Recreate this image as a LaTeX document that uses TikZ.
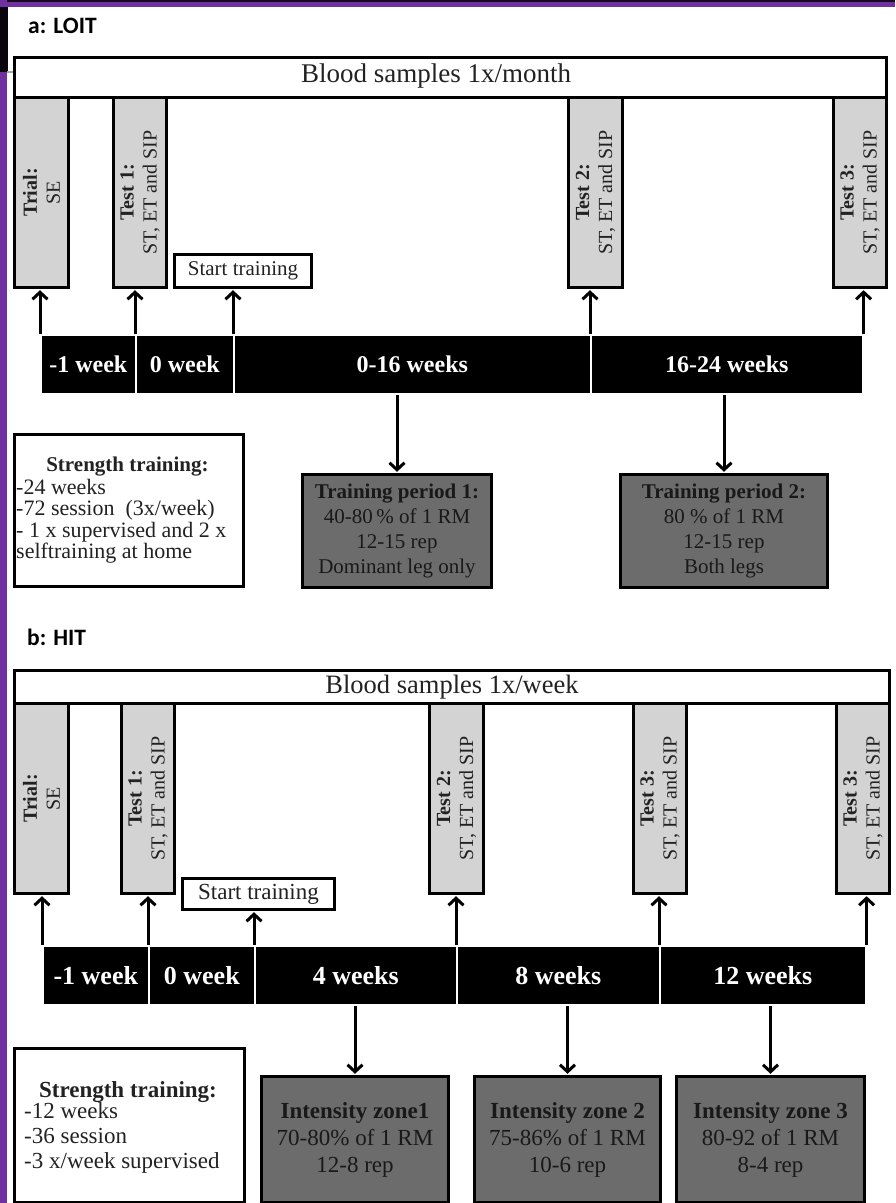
\documentclass[tikz,border=0pt]{standalone}
\usepackage{fontspec}
\setmainfont{Liberation Serif}
\newfontfamily\panelfont{Carlito}
\usetikzlibrary{arrows.meta}

\definecolor{framepurple}{HTML}{7030A0}
\definecolor{testgray}{HTML}{D3D3D3}
\definecolor{periodgray}{HTML}{6C6C6C}
\definecolor{inkgray}{HTML}{222222}

\newcommand\fsz[2]{\fontsize{#1}{#2}\selectfont}

\begin{document}
\begin{tikzpicture}[x=1pt,y=-1pt,
  every node/.style={inner sep=0pt, text=inkgray},
  panellabel/.style={anchor=west, font=\panelfont\bfseries\fsz{23.5}{26}, text=black},
  bloodbox/.style={draw, line width=3pt, fill=white, anchor=north west},
  testbox/.style={draw, line width=3pt, fill=testgray, anchor=north west},
  vtext/.style={rotate=90, align=center, font=\fsz{20}{23}},
  startbox/.style={draw, line width=3pt, fill=white, anchor=north west},
  barseg/.style={fill=black, draw=white, line width=1.6pt, anchor=north west, text=white},
  infobox/.style={draw, line width=3pt, fill=white, anchor=north west},
  periodbox/.style={draw, line width=3pt, fill=periodgray, anchor=north west, align=center, text=black!90},
  arr/.style={line width=3pt, shorten >=1.2pt, -{Straight Barb[length=7pt,width=15pt]}}
]
\useasboundingbox (0,0) rectangle (895,1203);
\fill[white] (0,0) rectangle (895,1203);

% frame edges
\fill[framepurple] (0,0) rectangle (895,7);
\fill[black!80!framepurple] (0,0) rectangle (895,1.5);
\fill[framepurple] (0,0) rectangle (7,1203);
\fill[black!92!framepurple] (0,7) rectangle (8,72);
\fill[black!35] (7,71) rectangle (21,73);

% ---------------- panel a ----------------
\node[panellabel] (labA) at (28,26) {a: LOIT};

\node[bloodbox, minimum width=872pt, minimum height=40pt] (bloodA) at (13,56) {};
\node[font=\fsz{27}{30}] (bloodAt) at (436,76) {Blood samples 1x/month};

\node[testbox, minimum width=54pt, minimum height=190pt] (trialA) at (13,96) {};
\node[testbox, minimum width=53pt, minimum height=190pt] (testOneA) at (112,96) {};
\node[testbox, minimum width=54pt, minimum height=190pt] (testTwoA) at (567,96) {};
\node[testbox, minimum width=53pt, minimum height=190pt] (testThreeA) at (832,96) {};
\node[vtext] (trialAt) at (trialA.center) {\textbf{Trial:}\\SE};
\node[vtext] (testOneAt) at (testOneA.center) {\textbf{Test 1:}\\ST, ET and SIP};
\node[vtext] (testTwoAt) at (testTwoA.center) {\textbf{Test 2:}\\ST, ET and SIP};
\node[vtext] (testThreeAt) at (testThreeA.center) {\textbf{Test 3:}\\ST, ET and SIP};

\node[startbox, minimum width=137pt, minimum height=33pt, font=\fsz{21}{24}] (startA) at (173,253) {Start training};

\begin{scope}[every node/.append style={font=\bfseries\fsz{24}{28}, minimum height=59pt}]
\node[barseg, minimum width=95pt]  (barA1) at (40,334)  {-1 week};
\node[barseg, minimum width=98pt]  (barA2) at (135,334) {0 week};
\node[barseg, minimum width=357pt] (barA3) at (233,334) {0-16 weeks};
\node[barseg, minimum width=272pt] (barA4) at (590,334) {16-24 weeks};
\end{scope}

\draw[arr] (barA1.north west) -- (barA1.north west |- trialA.south);
\draw[arr] (barA2.north west) -- (barA2.north west |- testOneA.south);
\draw[arr] (barA3.north west) -- (barA3.north west |- startA.south);
\draw[arr] (barA4.north west) -- (barA4.north west |- testTwoA.south);
\draw[arr] (barA4.north east) -- (barA4.north east |- testThreeA.south);

\node[infobox, minimum width=229pt, minimum height=152pt] (strengthA) at (13,433) {};
\node[font=\bfseries\fsz{21}{24}] (strengthAh) at (127.5,467) {Strength training:};
\node[anchor=north west, align=left, font=\fsz{22}{21.5}] (strengthAl) at (16,479)
  {-24 weeks\\-72 session\ \ (3x/week)\\- 1 x supervised and 2 x\\selftraining at home};

\node[periodbox, minimum width=189pt, minimum height=113pt, font=\fsz{21}{25}] (periodOne) at (301,473)
  {\textbf{Training period 1:}\\40-80\,\% of 1 RM\\12-15 rep\\Dominant leg only};
\node[periodbox, minimum width=207pt, minimum height=113pt, font=\fsz{21}{25}] (periodTwo) at (619,473)
  {\textbf{Training period 2:}\\80 \% of 1 RM\\12-15 rep\\Both legs};

\draw[arr] (barA3.south -| periodOne.north) -- (periodOne.north);
\draw[arr] (barA4.south -| periodTwo.north) -- (periodTwo.north);

% ---------------- panel b ----------------
\node[panellabel] (labB) at (27,637) {b: HIT};

\node[bloodbox, minimum width=875pt, minimum height=33pt, font=\fsz{26.5}{30}] (bloodB) at (13,669) {Blood samples 1x/week};

\node[testbox, minimum width=54pt, minimum height=190pt] (trialB) at (13,702) {};
\node[testbox, minimum width=53pt, minimum height=190pt] (testOneB) at (120,702) {};
\node[testbox, minimum width=54pt, minimum height=190pt] (testTwoB) at (428,702) {};
\node[testbox, minimum width=53pt, minimum height=190pt] (testThreeB) at (632,702) {};
\node[testbox, minimum width=53pt, minimum height=190pt] (testFourB) at (835,702) {};
\node[vtext] (trialBt) at (trialB.center) {\textbf{Trial:}\\SE};
\node[vtext] (testOneBt) at (testOneB.center) {\textbf{Test 1:}\\ST, ET and SIP};
\node[vtext] (testTwoBt) at (testTwoB.center) {\textbf{Test 2:}\\ST, ET and SIP};
\node[vtext] (testThreeBt) at (testThreeB.center) {\textbf{Test 3:}\\ST, ET and SIP};
\node[vtext] (testFourBt) at (testFourB.center) {\textbf{Test 3:}\\ST, ET and SIP};

\node[startbox, minimum width=152pt, minimum height=31pt, font=\fsz{23}{26}] (startB) at (181,877) {Start training};

\begin{scope}[every node/.append style={font=\bfseries\fsz{26}{30}, minimum height=59pt}]
\node[barseg, minimum width=106pt] (barB1) at (42,945)  {-1 week};
\node[barseg, minimum width=106pt] (barB2) at (148,945) {0 week};
\node[barseg, minimum width=202pt] (barB3) at (254,945) {4 weeks};
\node[barseg, minimum width=203pt] (barB4) at (456,945) {8 weeks};
\node[barseg, minimum width=206pt] (barB5) at (659,945) {12 weeks};
\end{scope}

\draw[arr] (barB1.north west) -- (barB1.north west |- trialB.south);
\draw[arr] (barB2.north west) -- (barB2.north west |- testOneB.south);
\draw[arr] (barB3.north west) -- (barB3.north west |- startB.south);
\draw[arr] (barB4.north west) -- (barB4.north west |- testTwoB.south);
\draw[arr] (barB5.north west) -- (barB5.north west |- testThreeB.south);
\draw[arr] (barB5.north east) -- (barB5.north east |- testFourB.south);

\node[infobox, minimum width=230pt, minimum height=154pt] (strengthB) at (13,1047) {};
\node[font=\bfseries\fsz{23}{26}] (strengthBh) at (128,1092) {Strength training:};
\node[anchor=north west, align=left, font=\fsz{23}{25}] (strengthBl) at (24,1102)
  {-12 weeks\\-36 session\\-3 x/week supervised};

\node[periodbox, minimum width=187pt, minimum height=126pt, font=\fsz{23}{27}] (zoneOne) at (260,1075)
  {\textbf{Intensity zone1}\\70-80\% of 1 RM\\12-8 rep};
\node[periodbox, minimum width=186pt, minimum height=126pt, font=\fsz{23}{27}] (zoneTwo) at (473,1075)
  {\textbf{Intensity zone 2}\\75-86\% of 1 RM\\10-6 rep};
\node[periodbox, minimum width=188pt, minimum height=126pt, font=\fsz{23}{27}] (zoneThree) at (675,1075)
  {\textbf{Intensity zone 3}\\80-92 of 1 RM\\8-4 rep};

\draw[arr] (barB3.south -| zoneOne.north) -- (zoneOne.north);
\draw[arr] (barB4.south -| zoneTwo.north) -- (zoneTwo.north);
\draw[arr] (barB5.south -| zoneThree.north) -- (zoneThree.north);
\end{tikzpicture}
\end{document}
